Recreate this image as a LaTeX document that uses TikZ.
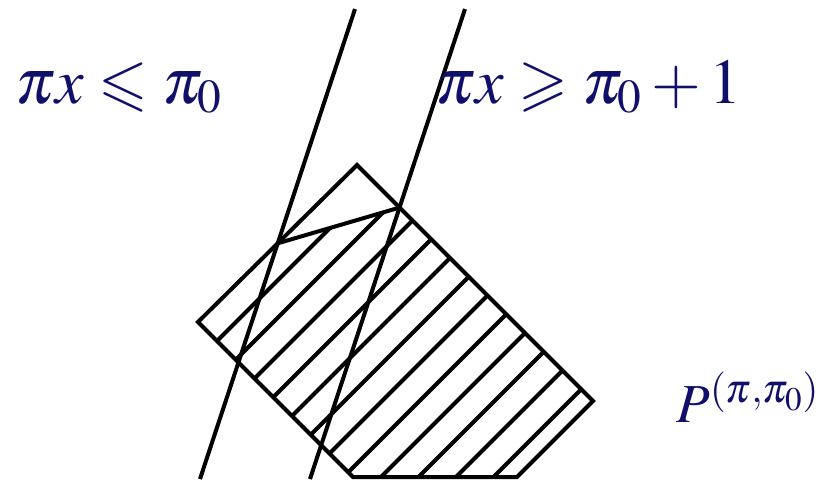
\documentclass[tikz,border=0pt]{standalone}
\usepackage{amsmath,amssymb}
\usepackage{mathptmx}
\usepackage{xcolor}
\usepackage{tikz}
\definecolor{navy}{HTML}{10106A}

\begin{document}
\begin{tikzpicture}[
x=0.5pt,y=-0.5pt,
edge/.style={line width=2pt,line join=miter},
hatch/.style={line width=2pt},
lbl/.style={text=navy,inner sep=0pt,anchor=base west,font=\fontsize{32}{38}\selectfont}
]
\useasboundingbox (0,0) rectangle (819,479);
% corners of the polytope
\coordinate (l) at (198,322);
\coordinate (t) at (357,165);
\coordinate (r) at (593,401);
\coordinate (br) at (517,477);
\coordinate (bl) at (353,477);
% the two hyperplanes
\coordinate (a1) at (355,9);
\coordinate (a2) at (200,479);
\coordinate (b1) at (465,9);
\coordinate (b2) at (310,479);
\coordinate (p1) at (intersection of l--t and a1--a2);
\coordinate (p2) at (intersection of t--r and b1--b2);
% hatched part
\begin{scope}
\clip (p1) -- (p2) -- (r) -- (br) -- (bl) -- (l) -- cycle;
\foreach \c in {558,595.5,...,972}
  \draw[hatch] (\c-500,500) -- (\c,0);
\end{scope}
\draw[edge] (l) -- (t) -- (r) -- (br) -- (bl) -- cycle;
\draw[edge] (p1) -- (p2);
\draw[edge] (a1) -- (a2);
\draw[edge] (b1) -- (b2);
\node[lbl] (le) at (15,103) {$\pi x \leqslant \pi_0$};
\node[lbl] (ge) at (435,103) {$\pi x \geqslant \pi_0 + 1$};
\node[lbl,font=\fontsize{27.5}{33}\selectfont] (poly) at (676,422) {$P^{(\pi,\pi_0)}$};
\end{tikzpicture}
\end{document}
